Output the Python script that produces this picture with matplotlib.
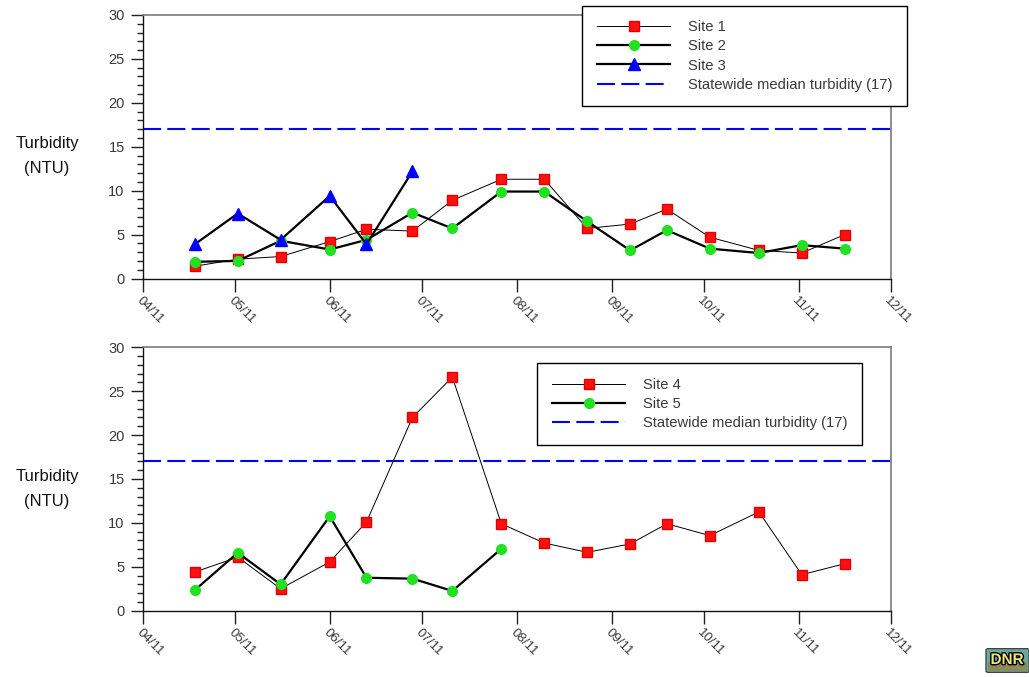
import matplotlib
matplotlib.use("Agg")
import matplotlib.pyplot as plt
import matplotlib.dates as mdates
from matplotlib.lines import Line2D
from matplotlib.patches import FancyBboxPatch
import matplotlib.patheffects as pe
import numpy as np

plt.rcParams['font.family'] = ['Liberation Sans', 'DejaVu Sans']
plt.rcParams['lines.scale_dashes'] = False

# ---------------- data ----------------
dates = np.array(['2011-04-18', '2011-05-02', '2011-05-16', '2011-06-01',
                  '2011-06-13', '2011-06-28', '2011-07-11', '2011-07-27',
                  '2011-08-10', '2011-08-24', '2011-09-07', '2011-09-19',
                  '2011-10-03', '2011-10-19', '2011-11-02', '2011-11-16'],
                 dtype='datetime64[D]')

site1 = [1.4, 2.2, 2.5, 4.2, 5.6, 5.4, 8.9, 11.3, 11.3, 5.7, 6.2, 7.9, 4.7, 3.2, 2.9, 5.0]
site2 = [1.9, 2.0, 4.3, 3.3, 4.4, 7.5, 5.7, 9.9, 9.9, 6.5, 3.2, 5.5, 3.4, 2.9, 3.8, 3.4]
site3 = [3.9, 7.4, 4.4, 9.4, 3.9, 12.2]
site4 = [4.4, 6.1, 2.5, 5.55, 10.1, 22.0, 26.6, 9.9, 7.7, 6.65, 7.6, 9.9, 8.55, 11.25, 4.1, 5.35]
site5 = [2.35, 6.6, 3.0, 10.75, 3.75, 3.65, 2.25, 7.05]

statewide_median = 17
x_start, x_end = np.datetime64('2011-04-01'), np.datetime64('2011-12-01')
y_max = 30
ylabel_text = "Turbidity\n(NTU)"
median_label = "Statewide median turbidity (17)"

# ---------------- styles ----------------
RED = '#ff1010'
GREEN = '#22e022'
BLUE = '#0000ff'
TXT = '#3a3a3a'

W, H = 1029, 677
fig = plt.figure(figsize=(W / 100, H / 100), dpi=100)

def fx(px):
    return px / W

def fy(py):
    return 1 - py / H

left, right = 142.7, 890.7
ax1 = fig.add_axes([fx(left), fy(278.5), fx(right) - fx(left), (278.5 - 15) / H])
ax2 = fig.add_axes([fx(left), fy(610.7), fx(right) - fx(left), (610.7 - 347.2) / H])

dash = (13, 4.5)

def style_axis(ax):
    ax.set_xlim(x_start, x_end)
    ax.set_ylim(0, y_max)
    ax.set_yticks(np.arange(0, y_max + 1, 5))
    ax.set_yticks(np.arange(0, y_max + 1, 1), minor=True)
    ax.xaxis.set_major_locator(mdates.MonthLocator())
    ax.xaxis.set_major_formatter(mdates.DateFormatter('%m/%y'))
    ax.tick_params(axis='y', which='major', length=9, width=1, color='#222222',
                   labelsize=10.5, labelcolor=TXT, pad=4)
    ax.tick_params(axis='y', which='minor', length=4.5, width=1, color='#222222')
    ax.tick_params(axis='x', which='major', length=9.5, width=1, color='#222222',
                   labelsize=9.5, labelcolor=TXT, pad=2)
    for lab in ax.get_xticklabels():
        lab.set_rotation(-45)
        lab.set_ha('left')
        lab.set_va('top')
        lab.set_rotation_mode('anchor')
    for s in ['left', 'bottom']:
        ax.spines[s].set_color('#111111')
        ax.spines[s].set_linewidth(1.0)
    for s in ['top', 'right']:
        ax.spines[s].set_color('#7a7a7a')
        ax.spines[s].set_linewidth(1.2)
    ax.axhline(statewide_median, color=BLUE, lw=1.5, dashes=dash, zorder=1)

# ---- top panel ----
ax1.plot(dates, site1, color='black', lw=0.7, marker='s', ms=6.5,
         mfc=RED, mec='#e00000', zorder=3)
ax1.plot(dates, site2, color='black', lw=1.6, marker='o', ms=7,
         mfc=GREEN, mec=GREEN, zorder=4)
ax1.plot(dates[:len(site3)], site3, color='black', lw=1.6, marker='^', ms=8.5,
         mfc=BLUE, mec=BLUE, zorder=5)
style_axis(ax1)

# ---- bottom panel ----
ax2.plot(dates, site4, color='black', lw=0.7, marker='s', ms=6.5,
         mfc=RED, mec='#e00000', zorder=3)
ax2.plot(dates[:len(site5)], site5, color='black', lw=1.6, marker='o', ms=7,
         mfc=GREEN, mec=GREEN, zorder=4)
style_axis(ax2)

# ---- legends ----
h1 = Line2D([], [], color='black', lw=0.7, marker='s', ms=6.5, mfc=RED, mec='#e00000')
h2 = Line2D([], [], color='black', lw=1.6, marker='o', ms=7, mfc=GREEN, mec=GREEN)
h3 = Line2D([], [], color='black', lw=1.6, marker='^', ms=8.5, mfc=BLUE, mec=BLUE)
hm = Line2D([], [], color=BLUE, lw=1.5, dashes=dash)

leg_kw = dict(loc='upper left', bbox_transform=fig.transFigure, fontsize=10.6,
              frameon=True, fancybox=False, framealpha=1, edgecolor='black',
              handlelength=5.0, handletextpad=1.2, labelspacing=0.35,
              borderpad=1.0, borderaxespad=0, labelcolor=TXT)
l1 = ax1.legend([h1, h2, h3, hm], ['Site 1', 'Site 2', 'Site 3', median_label],
                bbox_to_anchor=(fx(582), fy(5.5)), **leg_kw)
l1.get_frame().set_linewidth(1.0)
l1.set_zorder(10)

h4 = Line2D([], [], color='black', lw=0.7, marker='s', ms=6.5, mfc=RED, mec='#e00000')
h5 = Line2D([], [], color='black', lw=1.6, marker='o', ms=7, mfc=GREEN, mec=GREEN)
l2 = ax2.legend([h4, h5, hm], ['Site 4', 'Site 5', median_label],
                bbox_to_anchor=(fx(537), fy(363)), **leg_kw)
l2.get_frame().set_linewidth(1.0)
l2.set_zorder(10)

# ---- y labels ----
for yc in (156, 489):
    fig.text(fx(47), fy(yc), ylabel_text, ha='center', va='center',
             multialignment='center', fontsize=12, color='#111111',
             linespacing=1.8)

# ---- DNR logo ----
logo_bg = FancyBboxPatch((fx(988), fy(671)), fx(1027) - fx(988), fy(650) - fy(671),
                         boxstyle='round,pad=0.002', transform=fig.transFigure,
                         facecolor='#6aa89a', edgecolor='#333333', lw=0.8)
fig.patches.append(logo_bg)
logo_low = FancyBboxPatch((fx(988), fy(671)), fx(1027) - fx(988), fy(662) - fy(671),
                          boxstyle='square,pad=0', transform=fig.transFigure,
                          facecolor='#8c8a55', edgecolor='none')
fig.patches.append(logo_low)
fig.text(fx(1007), fy(660), 'DNR', ha='center', va='center', fontsize=11,
         fontweight='bold', color='#efe680',
         path_effects=[pe.withStroke(linewidth=2, foreground='black')])

fig.savefig('out.png', dpi=100)
